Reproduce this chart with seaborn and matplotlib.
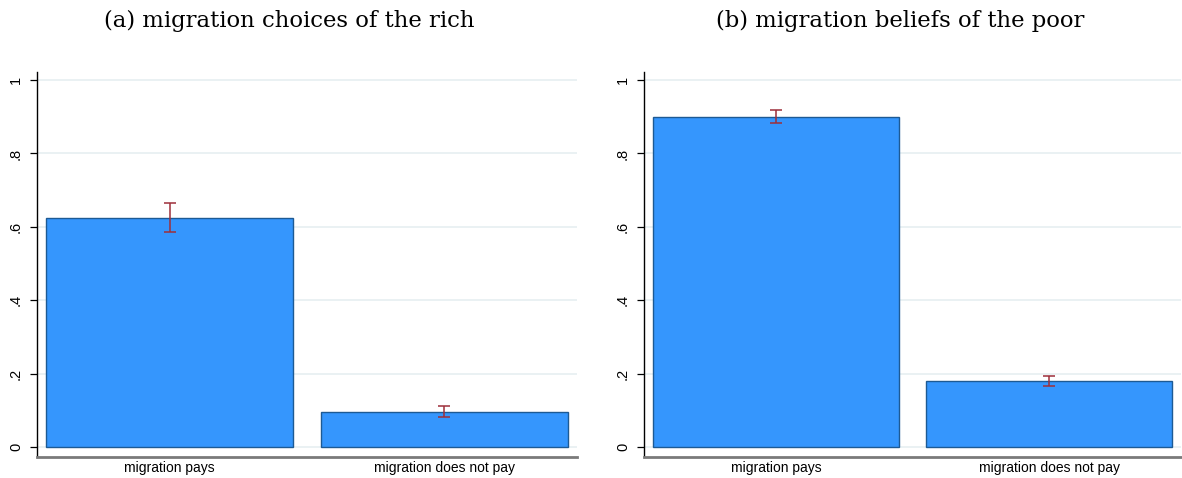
import matplotlib
matplotlib.use("Agg")
import matplotlib.pyplot as plt
import seaborn as sns
import pandas as pd

# Shares with 95% confidence bounds for each panel
categories = ["migration pays", "migration does not pay"]

rich_means = [0.625, 0.096]
rich_lower = [0.585, 0.082]
rich_upper = [0.666, 0.112]

poor_means = [0.900, 0.181]
poor_lower = [0.884, 0.167]
poor_upper = [0.918, 0.194]

titles = ["(a) migration choices of the rich", "(b) migration beliefs of the poor"]
ytick_vals = [0, 0.2, 0.4, 0.6, 0.8, 1.0]
ytick_labels = ["0", ".2", ".4", ".6", ".8", "1"]

sns.set_theme(style="white")
plt.rcParams["font.family"] = ["Liberation Sans", "DejaVu Sans"]
plt.rcParams["text.color"] = "black"
plt.rcParams["xtick.color"] = "black"
plt.rcParams["ytick.color"] = "black"

BAR = "#3596fd"
EDGE = "#1d5a94"
ERR = "#9e2f3a"
GRID = "#eaf1f3"

fig = plt.figure(figsize=(11.82, 4.78), dpi=100)
W, H = 1182, 478

panels = [
    (rich_means, rich_lower, rich_upper, (37, 577)),
    (poor_means, poor_lower, poor_upper, (644, 1181)),
]
title_x = [289, 900]

for i, (means, lo, hi, (x0, x1)) in enumerate(panels):
    ax = fig.add_axes([x0 / W, 1 - 457 / H, (x1 - x0) / W, (457 - 72) / H])
    df = pd.DataFrame({"category": categories, "share": means})
    sns.barplot(data=df, x="category", y="share", ax=ax, color=BAR,
                saturation=1, width=0.898, edgecolor=EDGE, linewidth=1.0,
                errorbar=None, zorder=3)
    yerr = [[m - l for m, l in zip(means, lo)], [h - m for m, h in zip(means, hi)]]
    ax.errorbar(range(len(categories)), means, yerr=yerr, fmt="none",
                ecolor=ERR, elinewidth=1.1, capsize=4.5, capthick=1.1, zorder=4)

    ax.set_xlim(-0.483, 1.483)
    ax.set_ylim(-0.027, 1.022)
    ax.set_yticks(ytick_vals)
    ax.set_yticklabels(ytick_labels, rotation=90, va="center", fontsize=10.5)
    ax.tick_params(axis="y", length=5, width=0.9, color="black", pad=5, left=True)
    ax.tick_params(axis="x", length=0, pad=3, labelsize=10)
    ax.set_xlabel("")
    ax.set_ylabel("")
    for y in ytick_vals:
        ax.axhline(y, color=GRID, lw=1.4, zorder=1)
    ax.grid(False)

    for s in ["top", "right"]:
        ax.spines[s].set_visible(False)
    ax.spines["left"].set_color("black")
    ax.spines["left"].set_linewidth(1.0)
    ax.spines["bottom"].set_color("#7a7a7a")
    ax.spines["bottom"].set_linewidth(2.0)

    fig.text(title_x[i] / W, 1 - 21 / H, titles[i], ha="center", va="center",
             fontsize=16.4, family=["DejaVu Serif"])

fig.savefig("out.png", dpi=100, facecolor="white")
